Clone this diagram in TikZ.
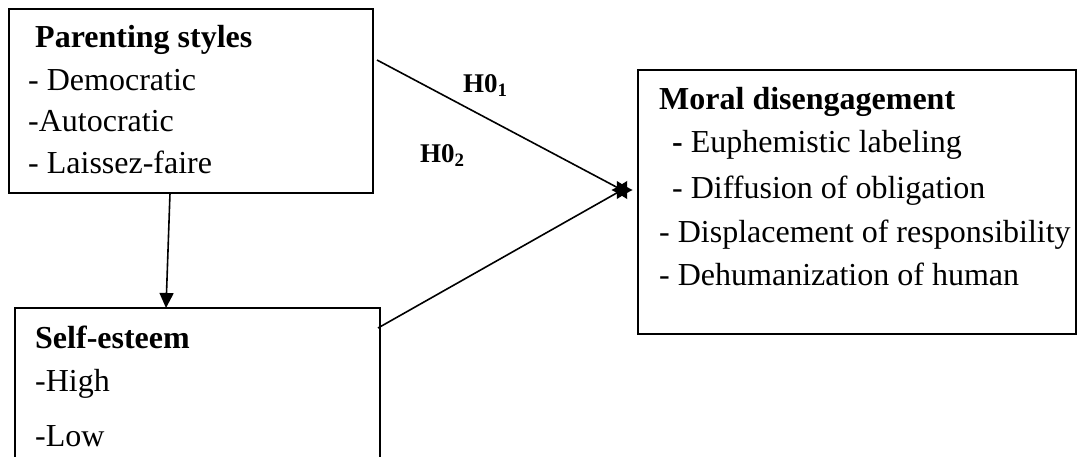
\documentclass[tikz,border=0pt]{standalone}
\usepackage{fontspec}
\setmainfont{Liberation Serif}
\usetikzlibrary{arrows.meta,shapes.geometric}
\begin{document}
\begin{tikzpicture}[x=1pt,y=-1pt,
  box/.style={draw,line width=1.5pt,inner sep=0pt,outer sep=0pt,anchor=north west},
  txt/.style={anchor=base west,inner sep=0pt,font=\fontsize{32}{38}\selectfont},
  hd/.style={anchor=base west,inner sep=0pt,font=\fontsize{32}{38}\selectfont\bfseries},
  hlab/.style={anchor=base west,inner sep=0pt,font=\fontsize{27}{32}\selectfont\bfseries},
  conn/.style={line width=1.6pt}]
\useasboundingbox (0,0) rectangle (1078,457);
% boxes
\node[box,minimum width=364pt,minimum height=184pt] (ps) at (9,9) {};
\node[box,minimum width=365pt,minimum height=170pt] (se) at (15,308) {};
\node[box,minimum width=438pt,minimum height=264pt] (md) at (638,70) {};
% texts parenting
\node[hd] (t1) at (35,48) {Parenting styles};
\node[txt] (t2) at (28,91) {- Democratic};
\node[txt] (t3) at (28,132) {-Autocratic};
\node[txt] (t4) at (28,174) {- Laissez-faire};
% self-esteem
\node[hd] (s1) at (35,348) {Self-esteem};
\node[txt] (s2) at (35,391) {-High};
\node[txt] (s3) at (35,446) {-Low};
% moral
\node[hd] (m1) at (659,110) {Moral disengagement};
\node[txt] (m2) at (672,153) {\textbf{-} Euphemistic labeling};
\node[txt] (m3) at (672,198) {- Diffusion of obligation};
\node[txt] (m4) at (659,242) {- Displacement of responsibility};
\node[txt] (m5) at (659,285) {- Dehumanization of human};
% labels
\node[hlab] (h1) at (463,93) {H0\textsubscript{1}};
\node[hlab] (h2) at (420,163) {H0\textsubscript{2}};
% star meeting point
\node[star,star points=6,star point ratio=1.8,fill=black,minimum size=21pt,inner sep=0pt,rotate=90] (st) at (622,190) {};
\coordinate (p1) at (377,60);
\coordinate (p2) at (378,328);
\coordinate (a1) at (170,193);
\coordinate (a2) at (166,308);
\draw[conn] (p1) -- (st.center);
\draw[conn] (p2) -- (st.center);
\draw[conn,-{Triangle[width=14pt,length=15pt]}] (a1) -- (a2);
\end{tikzpicture}
\end{document}
